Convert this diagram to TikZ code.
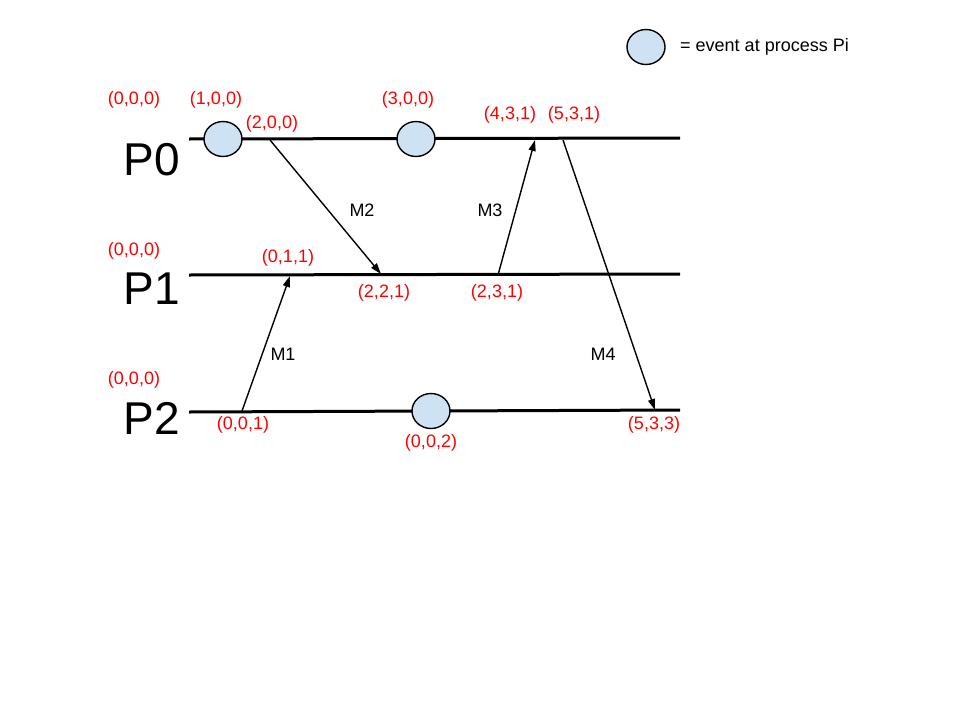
\documentclass[tikz,border=0pt]{standalone}
\usepackage{fontspec}
\setmainfont{Liberation Sans}
\usetikzlibrary{arrows.meta,shapes.geometric}
\definecolor{evfill}{HTML}{CFE2F3}
\definecolor{lblred}{HTML}{FF0000}
\begin{document}
\begin{tikzpicture}[x=1pt,y=-1pt,
  procline/.style={line width=3pt},
  event/.style={ellipse,draw=black,line width=1.4pt,fill=evfill,minimum width=38pt,minimum height=35pt,inner sep=0pt},
  vc/.style={text=lblred,font=\fontsize{18}{20}\selectfont,inner sep=0pt},
  plabel/.style={font=\fontsize{46}{48}\selectfont,inner sep=0pt},
  msg/.style={line width=1.4pt,-{Triangle[length=11pt,width=7pt]}},
  mlabel/.style={font=\fontsize{18}{20}\selectfont,inner sep=0pt}]
\useasboundingbox (0,0) rectangle (960,720);
% process lines
\coordinate (p0s) at (189,139); \coordinate (p0e) at (680,138);
\coordinate (p1s) at (189,275); \coordinate (p1e) at (680,274);
\coordinate (p2s) at (189,412); \coordinate (p2e) at (680,410);
\draw[procline] (p0s) -- (p0e);
\draw[procline] (p1s) -- (p1e);
\draw[procline] (p2s) -- (p2e);
% process labels
\node[plabel] (P0) at (152,160) {P0};
\node[plabel] (P1) at (152,289) {P1};
\node[plabel] (P2) at (152,418) {P2};
% events
\node[event] (ev01) at (223,139) {};
\node[event] (ev03) at (416,139) {};
\node[event] (ev22) at (431,411) {};
% legend
\node[event] (leg) at (646,47) {};
\node[mlabel,anchor=west] (legt) at (680,47) {= event at process Pi};
% message endpoints
\coordinate (m2s) at (270,140); \coordinate (m2e) at (381,274);
\coordinate (m3s) at (498,275); \coordinate (m3e) at (535,140);
\coordinate (m4s) at (563,140); \coordinate (m4e) at (655,410);
\coordinate (m1s) at (242,411); \coordinate (m1e) at (290,276);
\draw[msg] (m2s) -- (m2e);
\draw[msg] (m3s) -- (m3e);
\draw[msg] (m4s) -- (m4e);
\draw[msg] (m1s) -- (m1e);
\node[mlabel] (M2) at (362,210) {M2};
\node[mlabel] (M3) at (490,210) {M3};
\node[mlabel] (M4) at (603,354) {M4};
\node[mlabel] (M1) at (283,354) {M1};
% vector clocks
\node[vc] (v0a) at (134,100) {(0,0,0)};
\node[vc] (v0b) at (216,100) {(1,0,0)};
\node[vc] (v0c) at (272,124) {(2,0,0)};
\node[vc] (v0d) at (408,100) {(3,0,0)};
\node[vc] (v0e) at (510,115) {(4,3,1)};
\node[vc] (v0f) at (574,115) {(5,3,1)};
\node[vc] (v1a) at (134,251) {(0,0,0)};
\node[vc] (v1b) at (288,258) {(0,1,1)};
\node[vc] (v1c) at (384,293) {(2,2,1)};
\node[vc] (v1d) at (497,293) {(2,3,1)};
\node[vc] (v2a) at (134,380) {(0,0,0)};
\node[vc] (v2b) at (243,425) {(0,0,1)};
\node[vc] (v2c) at (431,443) {(0,0,2)};
\node[vc] (v2d) at (654,425) {(5,3,3)};
\end{tikzpicture}
\end{document}
